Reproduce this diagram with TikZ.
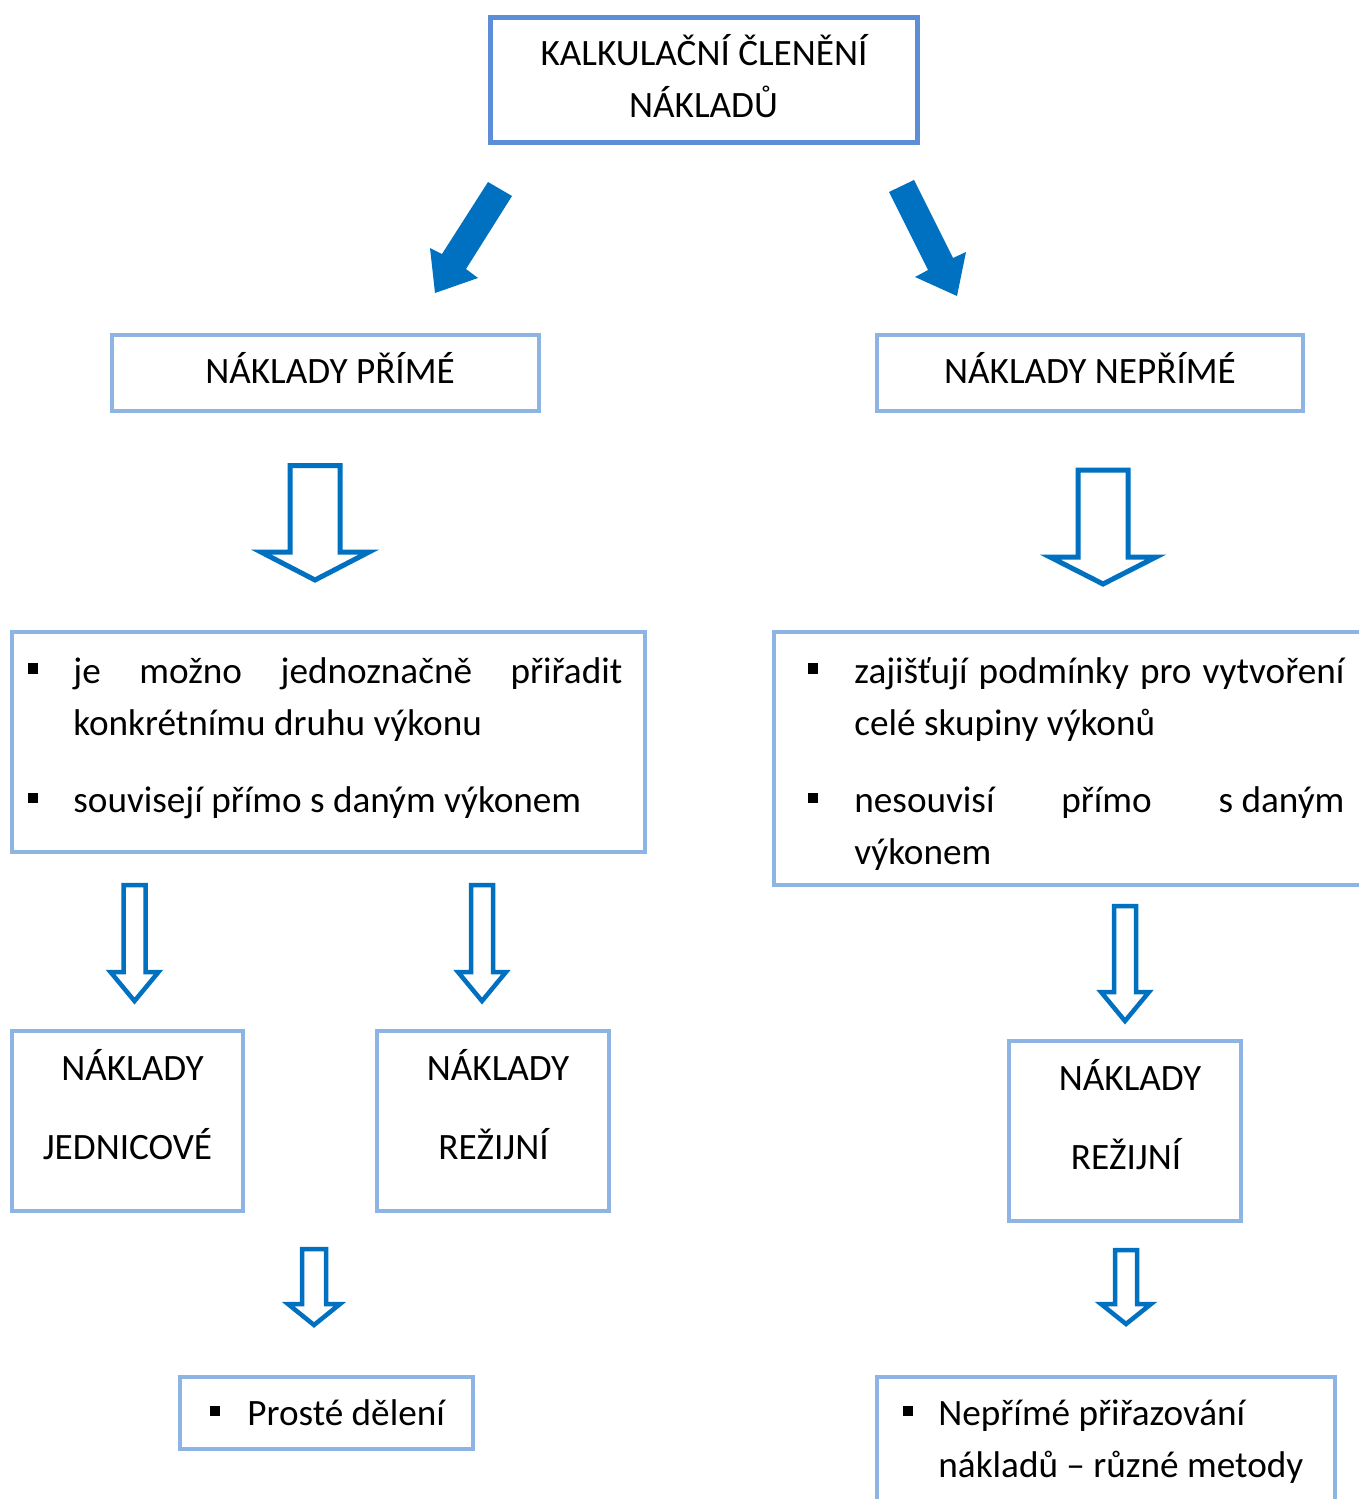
\documentclass[tikz,border=0pt]{standalone}
\usepackage{fontspec}
\setmainfont{Carlito}
\usetikzlibrary{fit}
\definecolor{arrowblue}{HTML}{0070C0}
\definecolor{topblue}{HTML}{5B8ED6}
\definecolor{boxblue}{HTML}{8DB4E2}
% hollow block arrow pointing down: centre x, top, half shaft, wing y, half wing, tip y
\newcommand{\hollowarrow}[7][]{%
  \draw[harrow,#1] ({#2-#4},#3) -- ({#2+#4},#3) -- ({#2+#4},#5) -- ({#2+#6},#5)
     -- (#2,#7) -- ({#2-#6},#5) -- ({#2-#4},#5) -- cycle;}
\begin{document}
\begin{tikzpicture}[x=0.5pt,y=-0.5pt,
  box/.style={draw=boxblue,line width=2pt,inner sep=0pt},
  topbox/.style={draw=topblue,line width=2.5pt,inner sep=0pt},
  txt/.style={inner sep=0pt,anchor=base,font=\fontsize{18.6pt}{26pt}\selectfont},
  ltxt/.style={inner sep=0pt,anchor=base west,font=\fontsize{18.6pt}{26pt}\selectfont},
  harrow/.style={draw=arrowblue,line width=2.5pt,fill=white,line join=miter},
  sarrow/.style={line width=2.25pt},
  bul/.style={fill=black,inner sep=0pt,minimum size=5.3pt}]
\useasboundingbox (0,0) rectangle (1359,1499);
\clip (0,0) rectangle (1359,1499);

% title
\node[topbox,fit={(490,17) (917,142)}] (top) {};
\node[txt] (top1) at (704,65) {KALKULAČNÍ ČLENĚNÍ};
\node[txt] (top2) at (703.5,117) {NÁKLADŮ};

% solid diagonal arrows
\fill[arrowblue] (488,182) -- (512,196) -- (466,269) -- (478,278) -- (435,293)
  -- (430,248) -- (442,254) -- cycle;
\fill[arrowblue] (914,180) -- (953,258) -- (966,252) -- (957,296) -- (915,277)
  -- (928,270) -- (889,192) -- cycle;

% second level
\node[box,fit={(112,335) (539,411)}] (prime) {};
\node[txt] (primet) at (330,383) {NÁKLADY PŘÍMÉ};
\node[box,fit={(877,335) (1303,411)}] (neprime) {};
\node[txt] (neprimet) at (1090,383) {NÁKLADY NEPŘÍMÉ};

\hollowarrow{315}{465.5}{25}{552}{54}{580}
\hollowarrow{1103}{470}{25}{557}{53}{584}

% descriptions, direct costs
\node[box,fit={(12,632) (645,852)}] (pdesc) {};
\node[bul] (pb1) at (33,668.5) {};
\node[ltxt] (pd1) at (73,683) {\makebox[274.5pt][s]{je možno jednoznačně přiřadit}};
\node[ltxt] (pd2) at (73,735) {konkrétnímu druhu výkonu};
\node[bul] (pb2) at (33,798) {};
\node[ltxt] (pd3) at (73,812) {souvisejí přímo s daným výkonem};

% descriptions, indirect costs
\node[box,fit={(774,632) (1375,885)}] (ndesc) {};
\node[bul] (nb1) at (813,668.5) {};
\node[ltxt] (nd1) at (854,683) {\makebox[245pt][s]{zajišťují podmínky pro vytvoření}};
\node[ltxt] (nd2) at (854,735) {celé skupiny výkonů};
\node[bul] (nb2) at (813,798) {};
\node[ltxt] (nd3) at (854,812) {\makebox[245pt][s]{nesouvisí přímo s\kern0.226em daným}};
\node[ltxt] (nd4) at (854,864) {výkonem};

\hollowarrow[sarrow]{134.5}{885}{11}{972}{24}{1001}
\hollowarrow[sarrow]{482}{885}{11}{972}{24}{1001}
\hollowarrow[sarrow]{1125}{906}{11}{992}{24}{1021}

% third level
\node[box,fit={(12,1031) (243,1211)}] (jedn) {};
\node[txt] (jedn1) at (132.5,1080) {NÁKLADY};
\node[txt] (jedn2) at (127.5,1159) {JEDNICOVÉ};
\node[box,fit={(377,1031) (609,1211)}] (rezl) {};
\node[txt] (rezl1) at (498,1080) {NÁKLADY};
\node[txt] (rezl2) at (493.5,1159) {REŽIJNÍ};
\node[box,fit={(1009,1041) (1241,1221)}] (rezr) {};
\node[txt] (rezr1) at (1130,1090) {NÁKLADY};
\node[txt] (rezr2) at (1126,1169) {REŽIJNÍ};

\hollowarrow[sarrow]{314}{1249}{12}{1304}{26}{1325}
\hollowarrow[sarrow]{1126}{1250}{11}{1304}{25}{1324}

% methods
\node[box,fit={(180,1377) (473,1449)}] (prost) {};
\node[bul] (sb) at (215,1411) {};
\node[ltxt] (prostt) at (247,1425) {Prosté dělení};
\node[box,fit={(877,1377) (1335,1520)}] (metody) {};
\node[bul] (mb) at (908,1411) {};
\node[ltxt] (met1) at (938,1425) {Nepřímé přiřazování};
\node[ltxt] (met2) at (938,1477) {nákladů – různé metody};
\end{tikzpicture}
\end{document}
